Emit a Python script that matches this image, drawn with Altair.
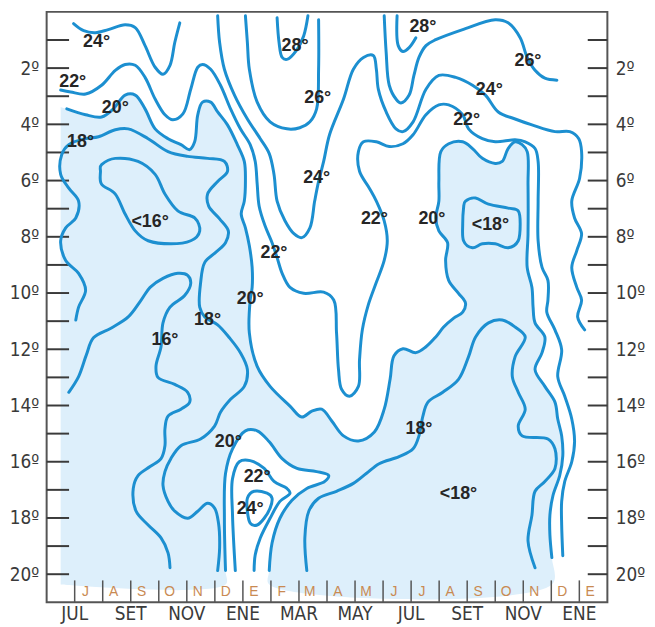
import altair as alt
import pandas as pd

# ---------------- data (month index: 0 = first July; latitude in degrees S) -------------
MONTH_TICKS = list(range(0, 19))
MONTH_LETTERS = ["J", "A", "S", "O", "N", "D", "E", "F", "M", "A",
                 "M", "J", "J", "A", "S", "O", "N", "D", "E"]
BIG_MONTH_POS = [0, 2, 4, 6, 8, 10, 12, 14, 16, 18]
BIG_MONTHS = ["JUL", "SET", "NOV", "ENE", "MAR", "MAY", "JUL", "SET", "NOV", "ENE"]
LAT_LABELS = [2, 4, 6, 8, 10, 12, 14, 16, 18, 20]
LAT_TICKS = list(range(1, 21))

C24_NW = [(-0.04, 0.42), (0.32, 0.67), (0.74, 0.74), (1.20, 0.63), (1.80, 0.46), (2.16, 0.56),
          (2.51, 1.20), (2.87, 1.97), (3.15, 2.22), (3.40, 1.90), (3.57, 1.09), (3.75, 0.39)]

C22_MAIN = [(-0.50, 2.78), (-0.14, 2.85), (0.39, 2.92), (0.96, 2.61), (1.45, 2.08), (1.80, 1.87),
            (2.16, 1.90), (2.51, 2.33), (2.87, 3.10), (3.22, 3.66), (3.50, 3.84), (3.86, 3.63),
            (4.14, 2.75), (4.39, 1.97), (4.56, 1.87), (4.85, 2.04), (5.20, 2.61), (5.56, 3.45),
            (5.91, 4.16), (6.26, 4.72), (6.44, 5.32), (6.51, 6.13), (6.58, 6.91), (6.79, 7.61),
            (7.04, 8.21), (7.22, 8.74), (7.40, 9.30), (7.68, 9.80), (8.17, 10.01), (8.88, 9.97),
            (9.24, 10.25), (9.34, 11.42), (9.41, 12.72), (9.52, 13.42), (9.80, 13.67),
            (10.12, 13.32), (10.16, 12.37), (10.26, 11.31), (10.47, 10.43), (10.76, 9.62),
            (11.04, 8.84), (11.15, 8.14), (11.04, 7.43), (10.76, 6.73), (10.51, 6.27),
            (10.16, 5.67), (10.12, 4.97), (10.30, 4.62), (10.76, 4.62), (11.22, 4.79),
            (11.71, 4.69), (12.07, 4.37), (12.53, 3.66), (12.99, 3.31), (13.34, 3.31),
            (13.84, 3.66), (14.05, 4.16), (14.54, 4.51), (15.00, 4.62), (15.71, 4.55),
            (16.07, 4.62), (16.42, 4.86), (16.53, 5.32), (16.53, 6.73), (16.53, 8.14),
            (16.67, 9.09), (16.88, 9.55), (16.88, 10.25), (16.84, 10.68), (17.13, 11.31),
            (17.37, 12.02), (17.23, 12.97), (17.48, 13.67), (17.73, 14.48), (17.83, 15.29),
            (17.73, 16.00), (17.48, 16.70), (17.37, 17.41), (17.37, 18.25), (17.41, 19.34)]

C20_MAIN = [(-0.28, 3.45), (0.39, 3.66), (0.96, 3.74), (1.38, 3.45), (1.80, 2.96), (2.16, 2.96),
            (2.51, 3.45), (2.87, 4.16), (3.33, 4.51), (3.79, 4.72), (4.10, 4.90), (4.28, 4.62),
            (4.39, 3.66), (4.56, 3.21), (4.85, 3.21), (5.10, 3.56), (5.45, 4.02), (5.80, 4.72),
            (6.05, 5.32), (6.09, 6.03), (6.05, 6.73), (5.94, 7.19), (6.09, 7.68), (6.23, 8.32),
            (6.33, 9.09), (6.33, 9.80), (6.26, 10.25), (6.23, 11.42), (6.51, 12.61),
            (6.97, 13.32), (7.68, 14.02), (8.10, 14.41), (8.46, 14.20), (8.81, 14.13),
            (9.17, 14.55), (9.59, 15.08), (10.12, 15.26), (10.69, 14.94), (11.04, 14.13),
            (11.25, 13.07), (11.39, 12.23), (11.71, 11.98), (12.17, 12.12), (12.53, 11.91),
            (12.88, 11.56), (13.16, 11.21), (13.52, 10.89), (13.84, 10.68), (13.94, 10.36),
            (13.69, 10.01), (13.34, 9.55), (13.23, 8.84), (13.30, 8.21), (12.99, 7.79),
            (12.88, 7.33), (12.99, 6.73), (12.99, 6.03), (13.06, 4.97), (13.34, 4.69),
            (13.84, 4.62), (14.19, 4.86), (14.54, 5.21), (15.00, 5.39), (15.25, 5.32),
            (15.46, 4.86), (15.71, 4.62), (15.96, 4.72), (16.14, 4.97), (16.17, 6.13),
            (16.17, 7.89), (16.14, 9.09), (16.31, 9.80), (16.35, 10.50), (16.42, 11.06),
            (16.77, 11.56), (16.67, 12.12), (16.42, 12.72), (16.77, 13.32), (17.13, 13.88),
            (17.23, 14.48), (17.37, 15.08), (17.41, 15.79), (17.30, 16.49), (17.06, 17.20),
            (16.95, 17.90), (16.95, 18.60), (17.02, 19.41)]

C20_LOBE = [(5.38, 19.87), (5.34, 18.01), (5.38, 16.42), (5.63, 15.54), (6.09, 14.90),
            (6.51, 14.90), (6.94, 15.29), (7.40, 15.89), (7.93, 16.24), (8.63, 16.35),
            (9.06, 16.49), (8.92, 16.70), (8.28, 16.95), (7.75, 17.37), (7.32, 18.01),
            (7.04, 18.89), (6.94, 19.87)]

C22_LOBE = [(5.73, 19.87), (5.63, 17.90), (5.63, 16.60), (5.87, 16.00), (6.26, 15.96),
            (6.76, 16.24), (7.11, 16.70), (7.57, 16.95), (7.68, 17.12), (7.32, 17.41),
            (6.97, 18.01), (6.62, 18.71), (6.44, 19.31), (6.40, 19.87)]

C18_WEST = [(0.04, 10.96), (0.14, 10.50), (0.39, 9.90), (0.14, 9.30), (-0.32, 8.84),
            (-0.50, 8.14), (-0.32, 7.68), (0.04, 7.33), (0.14, 6.73), (-0.21, 6.27),
            (-0.50, 5.78), (-0.46, 5.07), (-0.21, 4.72), (0.39, 4.51), (0.85, 4.44),
            (1.45, 4.19), (1.91, 4.16), (2.62, 4.51), (3.33, 4.97), (4.03, 5.14), (4.74, 5.21),
            (5.34, 5.32), (5.45, 5.67), (5.10, 6.03), (4.74, 6.48), (4.78, 6.91), (5.17, 7.36),
            (5.48, 7.79), (5.38, 8.21), (5.02, 8.56), (4.64, 8.91), (4.49, 9.65), (4.46, 10.50),
            (4.64, 10.85), (5.10, 11.13), (5.52, 11.59), (5.91, 12.12), (6.16, 12.72),
            (6.05, 13.32), (5.56, 13.78), (5.20, 14.24), (4.99, 14.73), (4.49, 15.19),
            (3.79, 15.43), (3.43, 15.89), (3.22, 16.35), (3.15, 16.84), (3.33, 17.41),
            (3.57, 17.76), (4.03, 18.01), (4.39, 17.76), (4.74, 17.48), (4.99, 17.65),
            (5.13, 18.18), (5.17, 19.06), (5.10, 19.87)]

C16_WEST = [(-0.21, 13.53), (0.14, 12.97), (0.42, 12.19), (0.67, 11.59), (1.31, 11.24),
            (1.91, 10.85), (2.37, 10.25), (2.69, 9.80), (3.15, 9.48), (3.68, 9.30), (4.03, 9.37),
            (4.14, 9.65), (3.93, 10.08), (3.40, 10.50), (3.15, 11.06), (3.08, 11.91),
            (2.90, 12.61), (2.97, 13.00), (3.57, 13.25), (4.03, 13.53), (4.10, 13.88),
            (3.79, 14.13), (3.33, 14.38), (3.22, 14.83), (3.22, 15.43), (3.08, 15.89),
            (2.69, 16.17), (2.26, 16.49), (2.09, 16.95), (2.19, 17.76), (2.62, 18.25),
            (3.08, 18.71), (3.33, 19.24), (3.40, 19.77)]

C26_WEST = [(6.09, 0.14), (6.16, 1.09), (6.23, 2.04), (6.51, 3.21), (6.97, 3.91), (7.57, 4.16),
            (8.03, 4.12), (8.39, 3.91), (8.63, 3.45), (8.70, 2.04), (8.70, 0.28)]

C28_WEST = [(7.22, 0.21), (7.29, 1.09), (7.40, 1.62), (7.57, 1.69), (7.93, 1.34), (8.17, 0.85),
            (8.32, 0.14)]

C24_MAIN = [(5.10, 0.14), (5.17, 1.09), (5.34, 2.04), (5.70, 2.96), (6.16, 3.81), (6.62, 4.51),
            (6.94, 5.04), (7.11, 5.78), (7.22, 6.73), (7.50, 7.43), (7.82, 7.89), (8.10, 8.03),
            (8.39, 7.68), (8.56, 6.73), (8.70, 6.03), (8.88, 5.32), (9.09, 4.37), (9.59, 3.10),
            (9.94, 2.04), (10.30, 1.62), (10.65, 1.55), (10.76, 2.04), (10.83, 2.75),
            (11.11, 3.56), (11.46, 4.16), (11.71, 4.26), (12.07, 3.91), (12.53, 2.75),
            (12.99, 2.26), (13.59, 2.33), (14.19, 2.61), (14.65, 2.96), (15.11, 3.56),
            (15.71, 3.81), (16.31, 4.02), (17.13, 4.26), (17.66, 4.26), (17.98, 4.51),
            (18.08, 4.97), (18.01, 5.92), (17.73, 6.73), (17.83, 7.33), (18.08, 7.89),
            (17.91, 8.49), (17.73, 9.09), (17.91, 9.80), (18.08, 10.25), (17.94, 10.85),
            (18.19, 11.31)]

C26_EAST = [(11.04, 0.14), (11.11, 1.44), (11.22, 2.61), (11.46, 3.10), (11.64, 3.24),
            (11.93, 2.96), (12.10, 2.26), (12.28, 1.62), (12.53, 1.20), (12.88, 0.99),
            (13.84, 0.63), (15.00, 0.28), (15.46, 0.39), (15.89, 0.92), (16.14, 1.62),
            (16.42, 2.08), (16.77, 2.36), (17.20, 2.43)]

C28_EAST = [(11.50, 0.14), (11.54, 1.20), (11.71, 1.41), (11.93, 1.27), (12.17, 0.92)]

C18_EAST = [(8.28, 19.87), (8.21, 18.71), (8.35, 17.76), (8.70, 17.30), (9.34, 17.05),
            (9.94, 16.77), (10.40, 16.42), (10.86, 16.07), (11.57, 15.82), (12.07, 15.54),
            (12.28, 15.08), (12.42, 14.38), (12.60, 13.88), (13.13, 13.53), (13.69, 13.07),
            (14.05, 12.26), (14.30, 11.56), (14.76, 11.06), (15.25, 10.96), (15.71, 11.21),
            (16.07, 11.56), (15.71, 12.26), (15.61, 12.97), (15.82, 13.53), (16.07, 14.13),
            (15.82, 14.73), (15.96, 15.08), (16.88, 15.19), (17.13, 15.54), (17.13, 16.24),
            (16.77, 16.70), (16.42, 17.05), (16.31, 17.90), (16.17, 18.82), (16.42, 19.77)]

# closed loops
L16_WEST = [(0.96, 5.43), (1.45, 5.21), (2.26, 5.32), (2.87, 5.78), (3.22, 6.48), (3.68, 7.08),
            (4.28, 7.33), (4.46, 7.79), (4.14, 8.14), (3.43, 8.25), (2.62, 8.14), (2.16, 7.79),
            (1.80, 7.19), (1.45, 6.48), (0.96, 6.13), (0.92, 5.67)]
L18_EAST = [(13.94, 6.73), (14.30, 6.62), (14.76, 6.84), (15.46, 6.98), (15.82, 7.08),
            (15.89, 7.54), (15.82, 8.14), (15.46, 8.39), (15.00, 8.25), (14.54, 8.25),
            (14.19, 8.39), (13.87, 8.14), (13.84, 7.54), (13.87, 6.98)]
L24_LOBE = [(6.16, 17.30), (6.40, 17.05), (6.86, 17.12), (7.04, 17.30), (6.97, 17.65),
            (6.76, 18.01), (6.51, 18.25), (6.26, 18.18), (6.16, 17.76)]

# corners of the shaded (< 20 degrees) area
SHADE_TOP_LEFT = (-0.50, 3.38)
SHADE_BOTTOM = 20.37
SHADE_LEFT = -0.50

LABEL_TEXT = ["24°", "22°", "20°", "18°", "<16°", "16°", "18°", "20°", "22°", "28°", "26°",
              "24°", "22°", "20°", "<18°", "28°", "26°", "24°", "22°", "18°", "<18°", "20°",
              "22°", "24°"]
LABEL_T = [0.78, -0.07, 1.45, 0.21, 2.69, 3.22, 4.74, 6.26, 7.11, 7.86, 8.67,
           8.63, 10.69, 12.74, 14.83, 12.42, 16.17, 14.79, 13.98, 12.28, 13.69, 5.48,
           6.51, 6.26]
LABEL_LAT = [1.06, 2.50, 3.42, 4.62, 7.47, 11.66, 10.96, 10.22, 8.56, 1.20, 3.07,
             5.92, 7.36, 7.36, 7.58, 0.53, 1.76, 2.78, 3.84, 14.83, 17.16, 15.29,
             16.53, 17.69]

# ---------------- styling -------------
BLUE = "#1C8FD0"
SHADE = "#DDEFFB"
DARK = "#3a3a3a"
LETTER = "#C98A52"
FONT_AX = "'Liberation Sans Narrow', 'DejaVu Sans Condensed', 'Liberation Sans', sans-serif"
FONT_LB = "'Liberation Sans', Arial, sans-serif"
BIG_LABEL_ROW = 21.42   # just below the frame (in the latitude scale)


def rows(name, pts):
    return [{"name": name, "i": i, "t": p[0], "lat": p[1]} for i, p in enumerate(pts)]


open_lines = {"c24nw": C24_NW, "c22": C22_MAIN, "c20": C20_MAIN, "c20lobe": C20_LOBE,
              "c22lobe": C22_LOBE, "c18w": C18_WEST, "c16w": C16_WEST, "c26w": C26_WEST,
              "c28w": C28_WEST, "c24": C24_MAIN, "c26e": C26_EAST, "c28e": C28_EAST,
              "c18e": C18_EAST}
loops = {"l16": L16_WEST, "l18": L18_EAST, "l24": L24_LOBE}

lines_df = pd.DataFrame([r for k, v in open_lines.items() for r in rows(k, v)])
loops_df = pd.DataFrame([r for k, v in loops.items() for r in rows(k, v)])

shade_pts = ([SHADE_TOP_LEFT] + C20_MAIN + [(C20_MAIN[-1][0], SHADE_BOTTOM),
             (C20_LOBE[-1][0], SHADE_BOTTOM)] + C20_LOBE[::-1] +
             [(C20_LOBE[0][0], SHADE_BOTTOM), (SHADE_LEFT, SHADE_BOTTOM)])
shade_df = pd.DataFrame(rows("shade", shade_pts))

labels_df = pd.DataFrame({"text": LABEL_TEXT, "t": LABEL_T, "lat": LABEL_LAT})
months_df = pd.DataFrame({"t": MONTH_TICKS, "letter": MONTH_LETTERS})
big_df = pd.DataFrame({"t": BIG_MONTH_POS, "name": BIG_MONTHS})
lat_df = pd.DataFrame({"lat": LAT_TICKS})

XS = alt.Scale(domain=[-1, 19], nice=False, zero=False)
YS = alt.Scale(domain=[21, 0], nice=False, zero=False)


def y_axis(orient):
    return alt.Axis(values=LAT_LABELS, labelExpr="datum.value + 'º'", ticks=False, domain=False,
                    grid=False, labelFontSize=19, labelFont=FONT_AX, labelColor=DARK,
                    labelPadding=8, title=None, orient=orient)


shade = alt.Chart(shade_df).mark_line(
    fill=SHADE, strokeOpacity=0, interpolate="catmull-rom"
).encode(
    x=alt.X("t:Q", scale=XS, axis=None),
    y=alt.Y("lat:Q", scale=YS, axis=y_axis("left")),
    order="i:Q",
)

left_ticks = alt.Chart(lat_df).mark_rule(color=DARK, strokeWidth=2).encode(
    x=alt.XDatum(-1, axis=None), x2=alt.datum(-0.2),
    y=alt.Y("lat:Q", scale=YS, axis=y_axis("right")),
)
right_ticks = alt.Chart(lat_df).mark_rule(color=DARK, strokeWidth=2).encode(
    x=alt.XDatum(18.3, axis=None), x2=alt.datum(19),
    y=alt.Y("lat:Q", scale=YS, axis=None),
)
month_ticks = alt.Chart(months_df).mark_rule(color="#555", strokeWidth=1.5).encode(
    x=alt.X("t:Q", scale=XS, axis=None),
    y=alt.YDatum(20.22, axis=None), y2=alt.datum(21),
)
month_letters = alt.Chart(months_df).mark_text(
    color=LETTER, fontSize=14, font=FONT_LB, dx=11, align="center", baseline="middle"
).encode(
    x=alt.X("t:Q", scale=XS, axis=None),
    y=alt.YDatum(20.62, axis=None),
    text="letter:N",
)
big_months = alt.Chart(big_df).mark_text(
    color=DARK, fontSize=19, font=FONT_AX, align="center", baseline="middle", clip=False
).encode(
    x=alt.X("t:Q", scale=XS, axis=None),
    y=alt.YDatum(BIG_LABEL_ROW, axis=None),
    text="name:N",
)

contours = alt.Chart(lines_df).mark_line(
    color=BLUE, strokeWidth=3, interpolate="catmull-rom", strokeCap="round"
).encode(
    x=alt.X("t:Q", scale=XS, axis=None),
    y=alt.Y("lat:Q", scale=YS, axis=None),
    detail="name:N",
    order="i:Q",
)
loop_lines = alt.Chart(loops_df).mark_line(
    color=BLUE, strokeWidth=3, interpolate="cardinal-closed"
).encode(
    x=alt.X("t:Q", scale=XS, axis=None),
    y=alt.Y("lat:Q", scale=YS, axis=None),
    detail="name:N",
    order="i:Q",
)
labels = alt.Chart(labels_df).mark_text(
    fontSize=18, fontWeight="bold", font=FONT_LB, color="#262626",
    align="center", baseline="middle"
).encode(
    x=alt.X("t:Q", scale=XS, axis=None),
    y=alt.Y("lat:Q", scale=YS, axis=None),
    text="text:N",
)

chart = alt.layer(
    shade, left_ticks, right_ticks, month_ticks, month_letters, big_months,
    contours, loop_lines, labels
).resolve_axis(y="independent").properties(
    width=566, height=596,
    autosize=alt.AutoSizeParams(type="none"),
    padding={"left": 39, "top": 1, "right": 40, "bottom": 22},
).configure_view(stroke="#555", strokeWidth=2)

chart.save("out.html", embed_options={"renderer": "svg", "actions": False})
